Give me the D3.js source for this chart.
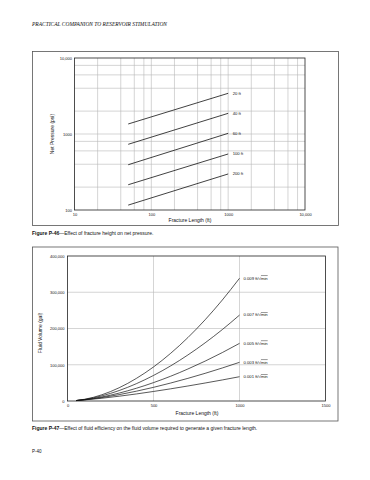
<!DOCTYPE html>
<html><head><meta charset="utf-8">
<script src="https://cdn.jsdelivr.net/npm/d3@7"></script>
<style>
html,body{margin:0;padding:0;background:#fff;}
svg{display:block;}
text{font-family:"Liberation Sans",Arial,sans-serif;fill:#111;}
</style></head>
<body>
<svg id="c" width="370" height="480"></svg>
<script>
// ---------- data: Figure P-46 ----------
const heightLabels = ["20 ft", "40 ft", "60 ft", "100 ft", "200 ft"];
const lengthRange = [50, 1000];                       // ft, start/end of each line
const pressureAt50 = [1354, 732, 394, 215, 116];      // psi
const pressureAt1000 = [3431, 1871, 1021, 546, 298];  // psi
const p46XTicks = [10, 100, 1000, 10000];
const p46XTickLabels = ["10", "100", "1000", "10,000"];
const p46YTicks = [100, 1000, 10000];
const p46YTickLabels = ["100", "1000", "10,000"];

// ---------- data: Figure P-47 ----------
const leakoffLabels = ["0.009", "0.007", "0.005", "0.003", "0.001"];
const fracLength = [50, 100, 200, 300, 400, 500, 600, 700, 800, 900, 1000];
const vol009 = [1300, 4800, 17200, 36500, 62200, 93900, 131600, 175000, 224000, 278500, 338500];
const vol007 = [1250, 4200, 14200, 28800, 47700, 70500, 96900, 127000, 160400, 197000, 237000];
const vol005 = [1100, 3600, 11200, 21800, 35100, 50700, 68400, 88300, 110000, 133600, 159000];
const vol003 = [1200, 3400, 9500, 17500, 27000, 37700, 49600, 62500, 76300, 91100, 106700];
const vol001 = [1200, 3000, 7600, 13200, 19400, 26300, 33600, 41400, 49600, 58100, 67000];
const p47XTicks = [0, 500, 1000, 1500];
const p47XTickLabels = ["0", "500", "1000", "1500"];
const p47YTicks = [0, 100000, 200000, 300000, 400000];
const p47YTickLabels = ["0", "100,000", "200,000", "300,000", "400,000"];

const svg = d3.select("#c");

// page header
svg.append("text").attr("x", 32).attr("y", 26)
  .style("font-family", "'Liberation Serif','Times New Roman',serif")
  .style("font-style", "italic").style("font-size", "5.3px")
  .attr("textLength", 135).attr("lengthAdjust", "spacingAndGlyphs")
  .text("PRACTICAL COMPANION TO RESERVOIR STIMULATION");

// ================= Figure P-46 =================
{
  const g = svg.append("g");
  g.append("rect").attr("x", 32.5).attr("y", 51.5).attr("width", 306).attr("height", 174)
    .attr("fill", "none").attr("stroke", "#555").attr("stroke-width", 0.8);

  const x = d3.scaleLog().domain([10, 10000]).range([74.5, 305]);
  const y = d3.scaleLog().domain([100, 10000]).range([210, 58]);

  // grid
  const gx = [], gy = [];
  [10, 100, 1000].forEach(d => [1, 2, 4, 6, 8].forEach(m => gx.push(d * m)));
  [100, 1000].forEach(d => [1, 2, 4, 6, 8].forEach(m => gy.push(d * m)));
  g.selectAll(".gx").data(gx.filter(v => v > 10)).join("line")
    .attr("x1", d => x(d)).attr("x2", d => x(d)).attr("y1", y(10000)).attr("y2", y(100))
    .attr("stroke", "#b8b8b8").attr("stroke-width", 0.6);
  g.selectAll(".gy").data(gy.filter(v => v > 100)).join("line")
    .attr("x1", x(10)).attr("x2", x(10000)).attr("y1", d => y(d)).attr("y2", d => y(d))
    .attr("stroke", "#b8b8b8").attr("stroke-width", 0.6);

  g.append("rect").attr("x", x(10)).attr("y", y(10000))
    .attr("width", x(10000) - x(10)).attr("height", y(100) - y(10000))
    .attr("fill", "none").attr("stroke", "#222").attr("stroke-width", 0.8);

  // axes (labels only)
  const ax = g.append("g").attr("transform", `translate(0,${y(100)})`)
    .call(d3.axisBottom(x).tickValues(p46XTicks).tickFormat((d, i) => p46XTickLabels[i]).tickSize(0).tickPadding(3));
  const ay = g.append("g").attr("transform", `translate(${x(10)},0)`)
    .call(d3.axisLeft(y).tickValues(p46YTicks).tickFormat((d, i) => p46YTickLabels[i]).tickSize(0).tickPadding(2.5));
  [ax, ay].forEach(a => {
    a.select(".domain").remove();
    a.selectAll("text").style("font-size", "4px").style("font-family", "'Liberation Sans',Arial,sans-serif").attr("fill", "#222");
  });

  // lines
  const series = heightLabels.map((lab, i) => ({
    label: lab,
    pts: [[lengthRange[0], pressureAt50[i]], [lengthRange[1], pressureAt1000[i]]]
  }));
  const line = d3.line().x(d => x(d[0])).y(d => y(d[1]));
  g.selectAll(".ln").data(series).join("path")
    .attr("d", d => line(d.pts)).attr("fill", "none").attr("stroke", "#111").attr("stroke-width", 0.8);
  g.selectAll(".lb").data(series).join("text")
    .attr("x", d => x(d.pts[1][0]) + 4.5).attr("y", d => y(d.pts[1][1]) + 1.4)
    .style("font-size", "4.2px").text(d => d.label);

  g.append("text").attr("x", 190).attr("y", 222.3).attr("text-anchor", "middle")
    .style("font-size", "5px").text("Fracture Length (ft)");
  g.append("text").attr("transform", "translate(54,134) rotate(-90)").attr("text-anchor", "middle")
    .style("font-size", "5px").text("Net Pressure (psi)");

  const cap = svg.append("text").attr("x", 32).attr("y", 235).style("font-size", "5px");
  cap.append("tspan").style("font-weight", "bold").text("Figure P-46");
  cap.append("tspan").text("\u2014Effect of fracture height on net pressure.");
}

// ================= Figure P-47 =================
{
  const g = svg.append("g");
  g.append("rect").attr("x", 32.5).attr("y", 247).attr("width", 305.5).attr("height", 174)
    .attr("fill", "none").attr("stroke", "#555").attr("stroke-width", 0.8);

  const x = d3.scaleLinear().domain([0, 1500]).range([67.5, 325.5]);
  const y = d3.scaleLinear().domain([0, 400000]).range([401, 256]);

  g.selectAll(".gx").data([500, 1000]).join("line")
    .attr("x1", d => x(d)).attr("x2", d => x(d)).attr("y1", y(400000)).attr("y2", y(0))
    .attr("stroke", "#b8b8b8").attr("stroke-width", 0.6);
  g.selectAll(".gy").data([100000, 200000, 300000]).join("line")
    .attr("x1", x(0)).attr("x2", x(1500)).attr("y1", d => y(d)).attr("y2", d => y(d))
    .attr("stroke", "#b8b8b8").attr("stroke-width", 0.6);
  g.append("rect").attr("x", x(0)).attr("y", y(400000))
    .attr("width", x(1500) - x(0)).attr("height", y(0) - y(400000))
    .attr("fill", "none").attr("stroke", "#222").attr("stroke-width", 0.8);

  const ax = g.append("g").attr("transform", `translate(0,${y(0)})`)
    .call(d3.axisBottom(x).tickValues(p47XTicks).tickFormat((d, i) => p47XTickLabels[i]).tickSize(0).tickPadding(3));
  const ay = g.append("g").attr("transform", `translate(${x(0)},0)`)
    .call(d3.axisLeft(y).tickValues(p47YTicks).tickFormat((d, i) => p47YTickLabels[i]).tickSize(0).tickPadding(3));
  [ax, ay].forEach(a => {
    a.select(".domain").remove();
    a.selectAll("text").style("font-size", "4px").style("font-family", "'Liberation Sans',Arial,sans-serif").attr("fill", "#222");
  });

  const vols = [vol009, vol007, vol005, vol003, vol001];
  const series = leakoffLabels.map((lab, i) => ({
    label: lab, pts: fracLength.map((L, j) => [L, vols[i][j]])
  }));
  const line = d3.line().curve(d3.curveMonotoneX).x(d => x(d[0])).y(d => y(d[1]));
  g.selectAll(".ln").data(series).join("path")
    .attr("d", d => line(d.pts)).attr("fill", "none").attr("stroke", "#111").attr("stroke-width", 0.7);
  const lbs = g.selectAll(".lb").data(series).join("text")
    .attr("x", d => x(1000) + 4).attr("y", d => y(d.pts[d.pts.length - 1][1]) + 1.3)
    .style("font-size", "4.2px");
  lbs.append("tspan").text(d => d.label + " ft/\u221A");
  lbs.append("tspan").style("text-decoration", "overline").text("min");

  g.append("text").attr("x", 197).attr("y", 414.5).attr("text-anchor", "middle")
    .style("font-size", "5px").text("Fracture Length (ft)");
  g.append("text").attr("transform", "translate(41.5,333) rotate(-90)").attr("text-anchor", "middle")
    .style("font-size", "5px").text("Fluid Volume (gal)");

  const cap = svg.append("text").attr("x", 32).attr("y", 430).style("font-size", "5px");
  cap.append("tspan").style("font-weight", "bold").text("Figure P-47");
  cap.append("tspan").text("\u2014Effect of fluid efficiency on the fluid volume required to generate a given fracture length.");
}

svg.append("text").attr("x", 32).attr("y", 452.5).style("font-size", "4.5px").text("P-40");
</script>
</body></html>
